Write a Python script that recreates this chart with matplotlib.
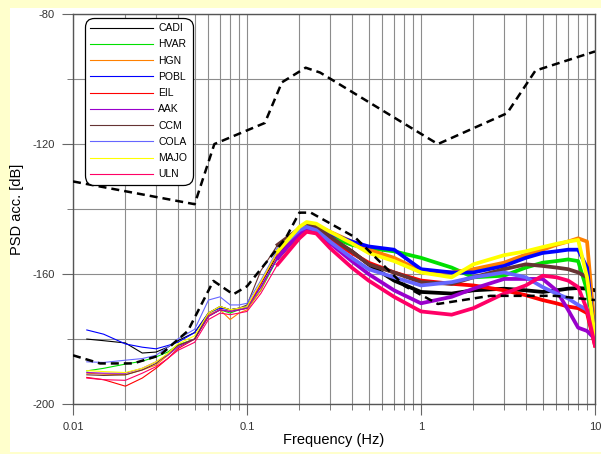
import numpy as np
import matplotlib.pyplot as plt
from matplotlib.patches import Rectangle
from matplotlib.ticker import FixedLocator, NullFormatter

plt.rcParams['font.family'] = ['Liberation Sans', 'DejaVu Sans']

# Peterson new high / low noise models, breakpoints (Hz, dB)
nhnm_f = [0.01, 0.05, 0.0649, 0.1266, 0.1587, 0.2174, 0.2632, 1.25, 3.125, 4.545, 10.0]
nhnm_db = [-131.5, -138.5, -120.0, -113.5, -101.0, -96.5, -98.0, -120.0, -110.5, -97.4, -91.5]
nlnm_f = [0.01, 0.01429, 0.0222, 0.0316, 0.0457, 0.0641, 0.0833, 0.1, 0.1667, 0.2,
          0.2326, 0.4167, 0.806, 1.25, 2.5, 5.88, 10.0]
nlnm_db = [-185.0, -187.5, -187.5, -185.0, -177.5, -162.1, -166.25, -163.75, -149.0, -141.1,
           -141.1, -148.65, -163.7, -169.2, -166.7, -166.7, -168.0]

# station PSD curves
freq = [0.012, 0.015, 0.02, 0.025, 0.03, 0.035, 0.04, 0.05, 0.06, 0.07, 0.08, 0.09, 0.1,
        0.12, 0.15, 0.2, 0.22, 0.25, 0.3, 0.4, 0.5, 0.7, 1.0, 1.5, 2.0, 3.0, 4.0, 5.0,
        6.0, 7.0, 8.0, 9.0, 10.0]
cadi = [-180, -180.5, -181.2, -184.3, -184, -182.5, -180.5, -178, -172, -170, -171, -170.5, -170,
        -163, -154, -147, -145.5, -146, -149, -153, -157, -162, -165.5, -166, -165, -164.5, -165,
        -165.5, -165, -164.5, -164.3, -164.5, -165]
hvar = [-189.8, -189, -187.7, -186.8, -185.5, -184, -181.8, -180, -173, -171, -172, -171, -170.5,
        -165, -155, -147.5, -146, -146, -148.5, -151, -152, -153, -155, -158, -161, -160.5, -158,
        -156.5, -156, -155.5, -156, -165, -178]
hgn = [-190.5, -190.8, -191, -189.5, -188, -185, -182, -180, -172.5, -171, -174, -172, -171,
       -165, -154, -146, -144.5, -145, -147, -150, -152.5, -155, -159, -159.5, -158.5, -156.5, -154,
       -152.5, -151, -150, -149, -150, -178]
pobl = [-177.2, -178.5, -181.5, -182.5, -183, -182, -181, -178, -172, -170.5, -171, -170.5, -170,
        -164, -155, -147, -145.5, -145.5, -147.5, -150, -151.5, -152.5, -158.5, -159.5, -159.5, -157.5,
        -155, -153.5, -153, -152.5, -152.5, -158, -180]
eil = [-191.8, -192.5, -194.5, -192, -189, -186, -183, -180, -173, -171, -171.5, -171, -170.5,
       -163, -153, -146, -145, -146, -149.5, -153.5, -156.5, -159.5, -162, -163, -163.5, -165, -166.5,
       -168, -169, -170, -170.5, -172, -182]
aak = [-190.3, -190.5, -190.5, -189, -187, -185, -182.5, -180, -173, -171, -171.5, -171, -170.5,
       -164, -155, -147.5, -146, -147, -150.5, -156, -160, -165, -169, -167, -164.5, -161.5, -161.5,
       -161.5, -165, -171, -176.5, -177.5, -180]
ccm = [-191, -191.2, -191, -189.5, -187.5, -184.5, -182, -180, -172, -170, -171, -170.5, -169.5,
       -159, -151, -146, -145, -145.5, -148.5, -153, -157, -159.5, -162.5, -163, -161, -158.5, -157,
       -157.5, -158, -158.5, -159.5, -161, -180]
cola = [-187, -187.2, -186.5, -186, -185, -182.5, -180, -177, -168, -167, -169.5, -169.5, -169,
        -162, -152.5, -146.5, -145.5, -146.5, -150, -155, -158.5, -161, -163.5, -162.5, -161, -159.5,
        -161, -164, -166, -167.5, -169.5, -171, -180]
majo = [-189.7, -190, -190.3, -189, -187, -184.5, -181.5, -179, -172, -170, -171, -170.5, -170,
        -162.5, -153, -145.5, -144, -144.5, -147, -150.5, -153.5, -156, -159.5, -161, -157, -154.2,
        -153, -151.7, -150.7, -150, -149.5, -161, -179.5]
uln = [-192, -192.5, -192.7, -190.5, -188.5, -186, -183.5, -181, -174, -172, -172.5, -172, -171.5,
       -166, -157, -149, -147, -147.5, -152, -158, -162, -167, -171.5, -172.5, -170.5, -166, -163.5,
       -160.5, -161, -162, -164, -171, -182]

stations = ['CADI', 'HVAR', 'HGN', 'POBL', 'EIL', 'AAK', 'CCM', 'COLA', 'MAJO', 'ULN']
curves = [cadi, hvar, hgn, pobl, eil, aak, ccm, cola, majo, uln]
colors = ['#000000', '#00E000', '#FF8000', '#0000FF', '#FF0000', '#9900CC', '#663333',
          '#6666FF', '#FFFF00', '#FF0066']

fig = plt.figure(figsize=(6.01, 4.54), dpi=100, facecolor='#FFFFCC')
fig.patches.append(Rectangle((10 / 601, 2 / 454), 1 - 10 / 601, 444 / 454,
                             transform=fig.transFigure, facecolor='white',
                             edgecolor='none', zorder=-10))
ax = fig.add_axes([0.1215, 0.110, 0.8685, 0.859])

# thin line over the whole band, heavier where the spectra get noisy
f = np.array(freq)
noisy = f >= 0.15
handles = []
for name, vals, c in zip(stations, curves, colors):
    v = np.array(vals)
    ln, = ax.plot(f, v, color=c, lw=0.8, label=name, zorder=3)
    ax.plot(f[noisy], v[noisy], color=c, lw=2.7, zorder=3)
    handles.append(ln)

dash = (0, (3.2, 2.0))
ax.plot(nhnm_f, nhnm_db, color='black', lw=1.8, linestyle=dash, zorder=4)
ax.plot(nlnm_f, nlnm_db, color='black', lw=1.8, linestyle=dash, zorder=4)

ax.set_xscale('log')
ax.set_xlim(0.01, 10)
ax.set_ylim(-200, -80)

ax.xaxis.set_major_locator(FixedLocator([0.01, 0.1, 1, 10]))
ax.set_xticklabels(['0.01', '0.1', '1', '10'])
minor_x = [m * 10.0 ** e for e in (-2, -1, 0) for m in range(2, 10)]
ax.xaxis.set_minor_locator(FixedLocator(minor_x))
ax.xaxis.set_minor_formatter(NullFormatter())
ax.yaxis.set_major_locator(FixedLocator([-200, -160, -120, -80]))
ax.set_yticklabels(['-200', '-160', '-120', '-80'])
ax.yaxis.set_minor_locator(FixedLocator([-180, -140, -100]))

ax.grid(True, which='both', color='#8c8c8c', lw=0.8)
ax.set_axisbelow(True)
ax.tick_params(which='major', length=8, color='#666666', labelsize=8,
               labelcolor='#333333', pad=5)
ax.tick_params(which='minor', length=4.5, color='#666666')
for s in ax.spines.values():
    s.set_color('#555555')
    s.set_linewidth(1.0)

ax.set_xlabel('Frequency (Hz)', fontsize=10.5)
ax.set_ylabel('PSD acc. [dB]', fontsize=10.5)
ax.xaxis.set_label_coords(0.5, -0.075)
ax.yaxis.set_label_coords(-0.093, 0.5)

leg = ax.legend(handles=handles, labels=stations, loc='upper left',
                bbox_to_anchor=(0.023, 0.99), borderaxespad=0,
                fontsize=7.5, handlelength=6, handletextpad=0.55, labelspacing=0.6,
                frameon=True, fancybox=True, framealpha=1, edgecolor='black',
                borderpad=0.5)
leg.get_frame().set_linewidth(0.9)
leg.get_frame().set_boxstyle('round', pad=0, rounding_size=0.9)
for lh in leg.get_lines():
    lh.set_linewidth(0.8)
leg.set_zorder(5)

fig.savefig('out.png', dpi=100, facecolor=fig.get_facecolor())
